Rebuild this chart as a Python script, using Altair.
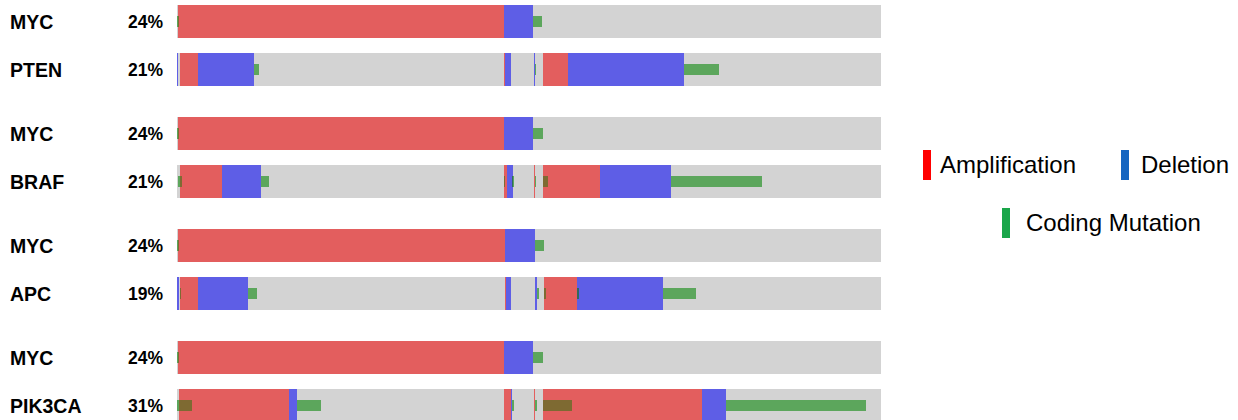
import altair as alt
import pandas as pd

# ---------------- data ----------------
N_SAMPLES = 704  # samples along the cohort axis

pair_genes = [("MYC", "PTEN"), ("MYC", "BRAF"), ("MYC", "APC"), ("MYC", "PIK3CA")]
pair_pcts = [("24%", "21%"), ("24%", "21%"), ("24%", "19%"), ("24%", "31%")]

# sample ranges (start, end) per alteration type, per track
myc1_amp = [(1, 327)]
myc1_del = [(327, 356)]
myc1_mut = [(0, 2), (356, 365)]
pten_amp = [(3, 21), (327, 328), (366, 391)]
pten_del = [(0, 1), (21, 77), (328, 334), (357, 358), (391, 507)]
pten_mut = [(77, 82), (358, 359), (507, 542)]

myc2_amp = [(1, 327)]
myc2_del = [(327, 356)]
myc2_mut = [(0, 2), (356, 366)]
braf_amp = [(3, 45), (327, 330), (357, 358), (366, 423)]
braf_del = [(45, 84), (330, 336), (423, 494)]
braf_mut = [(1, 5), (84, 92), (327, 328), (335, 337), (358, 359), (366, 371), (494, 585)]

myc3_amp = [(1, 328)]
myc3_del = [(328, 358)]
myc3_mut = [(0, 2), (358, 367)]
apc_amp = [(3, 21), (328, 329), (367, 400)]
apc_del = [(0, 2), (21, 71), (329, 334), (358, 360), (400, 486)]
apc_mut = [(3, 4), (71, 80), (360, 362), (367, 369), (400, 402), (486, 519)]

myc4_amp = [(1, 327)]
myc4_del = [(327, 356)]
myc4_mut = [(0, 2), (356, 366)]
pik3ca_amp = [(2, 112), (327, 334), (357, 358), (366, 525)]
pik3ca_del = [(112, 120), (334, 335), (525, 549)]
pik3ca_mut = [(0, 15), (120, 144), (335, 337), (358, 360), (366, 395), (549, 689)]

pair_segments = [
    ((myc1_amp, myc1_del, myc1_mut), (pten_amp, pten_del, pten_mut)),
    ((myc2_amp, myc2_del, myc2_mut), (braf_amp, braf_del, braf_mut)),
    ((myc3_amp, myc3_del, myc3_mut), (apc_amp, apc_del, apc_mut)),
    ((myc4_amp, myc4_del, myc4_mut), (pik3ca_amp, pik3ca_del, pik3ca_mut)),
]

legend_labels = ["Amplification", "Deletion", "Coding Mutation"]
legend_colors = ["#FF0000", "#1565C0", "#1AA64A"]

# ---------------- style ----------------
FONT = "Liberation Sans"
AMP = "#E35E5E"
DEL = "#5E5EE6"
BG = "#D3D3D3"
MUT_COLORS = {"none": "#5CA65C", "amp": "#7E6A32", "del": "#2F6A5E"}

# legend layout (pixel positions inside the legend panel)
LEGEND_LAYOUT = {
    "Amplification": dict(bar_x=23, text_x=40, cy=160),
    "Deletion": dict(bar_x=221, text_x=241, cy=160),
    "Coding Mutation": dict(bar_x=102, text_x=126, cy=218),
}


def split_mutation(s, e, amp, dele):
    """Split a mutation range into pieces by the copy-number state under it."""
    cuts = {s, e}
    for a, b in amp + dele:
        for c in (a, b):
            if s < c < e:
                cuts.add(c)
    cuts = sorted(cuts)
    pieces = []
    for a, b in zip(cuts[:-1], cuts[1:]):
        mid = (a + b) / 2
        state = "none"
        if any(x0 <= mid < x1 for x0, x1 in amp):
            state = "amp"
        elif any(x0 <= mid < x1 for x0, x1 in dele):
            state = "del"
        pieces.append((a, b, state))
    return pieces


def pair_chart(i):
    g1, g2 = pair_genes[i]
    p1, p2 = pair_pcts[i]
    bg_rows, cna_rows, mut_rows, lab_rows = [], [], [], []
    for gene, pct, (amp, dele, mut) in [(g1, p1, pair_segments[i][0]), (g2, p2, pair_segments[i][1])]:
        bg_rows.append(dict(track=gene, start=0, end=N_SAMPLES))
        for s, e in amp:
            cna_rows.append(dict(track=gene, start=s, end=e, type="Amplification"))
        for s, e in dele:
            cna_rows.append(dict(track=gene, start=s, end=e, type="Deletion"))
        for s, e in mut:
            for a, b, state in split_mutation(s, e, amp, dele):
                mut_rows.append(dict(track=gene, start=a, end=b, on=state))
        lab_rows.append(dict(track=gene, pct=pct))

    y = alt.Y("track:N", sort=[g1, g2],
              scale=alt.Scale(domain=[g1, g2], paddingInner=0.3125, paddingOuter=0),
              axis=None)
    x = alt.X("start:Q", scale=alt.Scale(domain=[0, N_SAMPLES], nice=False, zero=False), axis=None)

    bg = alt.Chart(pd.DataFrame(bg_rows)).mark_bar(color=BG).encode(x=x, x2="end:Q", y=y)
    cna = alt.Chart(pd.DataFrame(cna_rows)).mark_bar().encode(
        x=x, x2="end:Q", y=y,
        color=alt.Color("type:N",
                        scale=alt.Scale(domain=["Amplification", "Deletion"], range=[AMP, DEL]),
                        legend=None))
    mut = alt.Chart(pd.DataFrame(mut_rows)).mark_bar(height=11).encode(
        x=x, x2="end:Q", y=y,
        fill=alt.Fill("on:N",
                      scale=alt.Scale(domain=list(MUT_COLORS.keys()), range=list(MUT_COLORS.values())),
                      legend=None))
    lab = pd.DataFrame(lab_rows)
    gtext = alt.Chart(lab).mark_text(align="left", baseline="middle", font=FONT, fontSize=19.5,
                                     fontWeight="bold", color="black", dy=1).encode(
        x=alt.value(-167), y=y, text="track:N")
    ptext = alt.Chart(lab).mark_text(align="right", baseline="middle", font=FONT, fontSize=17.5,
                                     fontWeight="bold", color="black", dy=1).encode(
        x=alt.value(-14), y=y, text="pct:N")
    return alt.layer(bg, cna, mut, gtext, ptext).resolve_scale(color="independent").properties(
        width=N_SAMPLES, height=81)


pairs = [pair_chart(i) for i in range(len(pair_genes))]

legend_layers = []
for label, col in zip(legend_labels, legend_colors):
    lay = LEGEND_LAYOUT[label]
    d = pd.DataFrame({"label": [label]})
    legend_layers.append(
        alt.Chart(d).mark_rect(color=col).encode(
            x=alt.value(lay["bar_x"]), x2=alt.value(lay["bar_x"] + 8),
            y=alt.value(lay["cy"] - 15), y2=alt.value(lay["cy"] + 15)))
    legend_layers.append(
        alt.Chart(d).mark_text(align="left", baseline="middle", font=FONT, fontSize=24,
                               color="black", dy=1).encode(
            x=alt.value(lay["text_x"]), y=alt.value(lay["cy"]), text="label:N"))

legend = alt.layer(*legend_layers).properties(width=330, height=417)

chart = alt.hconcat(
    alt.vconcat(*pairs, spacing=31),
    legend,
    spacing=19,
).properties(
    padding={"left": 10, "top": 5, "right": 0, "bottom": 0}
).configure_view(stroke=None)

chart.save("out.html", embed_options={"renderer": "svg", "actions": False})
